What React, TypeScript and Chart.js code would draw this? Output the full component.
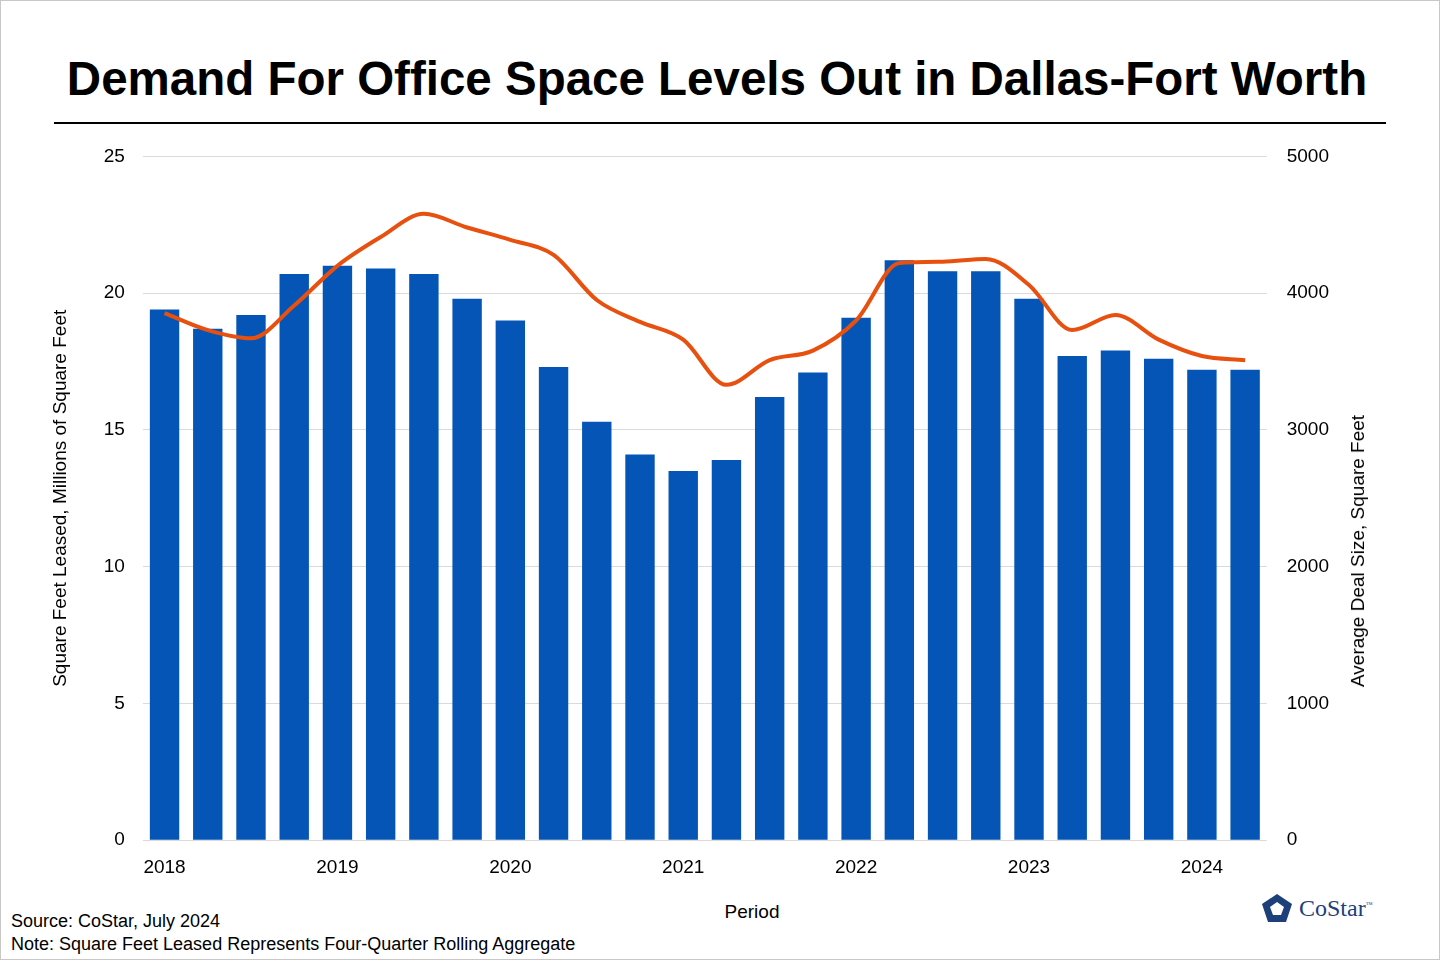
import React, { useEffect, useRef } from "react";
import { Chart, registerables } from "chart.js";
Chart.register(...registerables);

const periods = ["2018 Q1","2018 Q2","2018 Q3","2018 Q4","2019 Q1","2019 Q2","2019 Q3","2019 Q4","2020 Q1","2020 Q2","2020 Q3","2020 Q4","2021 Q1","2021 Q2","2021 Q3","2021 Q4","2022 Q1","2022 Q2","2022 Q3","2022 Q4","2023 Q1","2023 Q2","2023 Q3","2023 Q4","2024 Q1","2024 Q2"];
const sqftLeased = [19.4,18.7,19.2,20.7,21.0,20.9,20.7,19.8,19.0,17.3,15.3,14.1,13.5,13.9,16.2,17.1,19.1,21.2,20.8,20.8,19.8,17.7,17.9,17.6,17.2,17.2];
const avgDealSize = [3854,3730,3670,3910,4200,4410,4580,4480,4390,4280,3950,3790,3660,3330,3510,3580,3800,4220,4230,4250,4060,3730,3840,3660,3540,3510];

const font = "Arial, 'Liberation Sans', sans-serif";

export default function App() {
  const ref = useRef<HTMLCanvasElement>(null);
  useEffect(() => {
    document.body.style.margin = "0";
    const chart = new Chart(ref.current!, {
      data: {
        labels: periods,
        datasets: [
          { type: "line", data: avgDealSize, yAxisID: "y1", borderColor: "#E8500F", borderWidth: 4, pointRadius: 0, tension: 0.4, cubicInterpolationMode: "monotone", order: 0 },
          { type: "bar", data: sqftLeased, yAxisID: "y", backgroundColor: "#0455B5", categoryPercentage: 1, barPercentage: 0.68, order: 1 },
        ],
      },
      options: {
        animation: false, responsive: false,
        plugins: { legend: { display: false }, tooltip: { enabled: false } },
        layout: { padding: { left: 8, right: 0, top: 0, bottom: 0 } },
        scales: {
          x: {
            grid: { display: false }, border: { display: false },
            ticks: { autoSkip: false, maxRotation: 0, color: "#000", font: { family: font, size: 19 }, padding: 8,
              callback: (_v: any, i: number) => (i % 4 === 0 ? periods[i].slice(0, 4) : "") },
          },
          y: {
            min: 0, max: 25, position: "left",
            ticks: { stepSize: 5, color: "#000", font: { family: font, size: 19 }, padding: 18 },
            grid: { color: "#DADADA", drawTicks: false }, border: { display: false },
            title: { display: true, text: "Square Feet Leased, Millions of Square Feet", color: "#000", font: { family: font, size: 19 }, padding: { bottom: 14 } },
          },
          y1: {
            min: 0, max: 5000, position: "right",
            ticks: { stepSize: 1000, color: "#000", font: { family: font, size: 19 }, padding: 20, callback: (v: any) => String(v) },
            grid: { display: false, drawTicks: false }, border: { display: false },
          },
        },
      },
    });
    return () => chart.destroy();
  }, []);
  return (
    <div style={{ position: "relative", width: 1438, height: 958, border: "1px solid #C8C8C8", background: "#fff", fontFamily: font, overflow: "hidden" }}>
      <div style={{ position: "absolute", top: 50, left: 0, width: 1432, textAlign: "center", fontWeight: "bold", fontSize: 47.5, lineHeight: "56px" }}>
        Demand For Office Space Levels Out in Dallas-Fort Worth
      </div>
      <div style={{ position: "absolute", top: 121, left: 53, width: 1332, height: 2, background: "#000" }} />
      <canvas ref={ref} width={1312} height={762} style={{ position: "absolute", left: 36, top: 124, width: 1312, height: 762 }} />
      <div style={{ position: "absolute", left: 1357, top: 550, width: 0, height: 0 }}>
        <div style={{ position: "absolute", transform: "translate(-50%,-50%) rotate(-90deg)", whiteSpace: "nowrap", fontSize: 19 }}>Average Deal Size, Square Feet</div>
      </div>
      <div style={{ position: "absolute", left: 751, top: 900, transform: "translateX(-50%)", fontSize: 19 }}>Period</div>
      <div style={{ position: "absolute", left: 10, top: 909, fontSize: 18, lineHeight: "23px" }}>
        Source: CoStar, July 2024<br />Note: Square Feet Leased Represents Four-Quarter Rolling Aggregate
      </div>
      <div style={{ position: "absolute", left: 1260, top: 892, display: "flex", alignItems: "center", gap: 6 }}>
        <svg width="32" height="30" viewBox="0 0 32 30">
          <polygon points="16,1 31,11 25,29 7,29 1,11" fill="#1D3F7A" />
          <polygon points="16,9 23,14 20,22 12,22 9,14" fill="#fff" />
        </svg>
        <span style={{ fontFamily: "'Liberation Serif', serif", fontSize: 24, color: "#1D3F7A" }}>CoStar<sup style={{ fontSize: 7 }}>™</sup></span>
      </div>
    </div>
  );
}
